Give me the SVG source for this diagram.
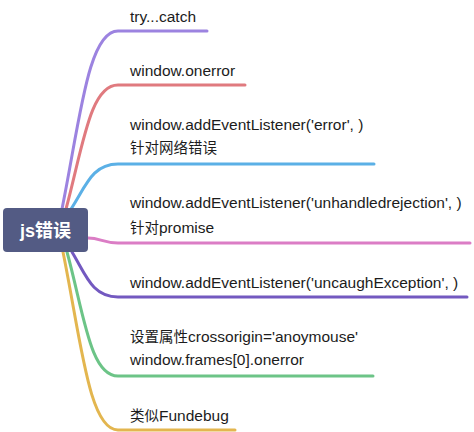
<svg xmlns="http://www.w3.org/2000/svg" width="474" height="432" viewBox="0 0 474 432">
<style>
.c{fill:none;stroke-width:3;stroke-linecap:round}
.t{font-family:"Liberation Sans","Noto Sans CJK SC",sans-serif;font-size:15.5px;fill:#1c1c1c}
.z{font-family:"Noto Sans CJK SC",sans-serif;font-size:14.5px}
.root{font-family:"Liberation Sans","Noto Sans CJK SC",sans-serif;font-size:18px;font-weight:bold;fill:#ffffff}
</style>
<rect width="474" height="432" fill="#ffffff"/>
<g id="connectors">
<path class="c" stroke="#9c83e0" d="M62 209 C80 120 88 31 118 31 L207 31"/>
<path class="c" stroke="#e07a7f" d="M66 209 C83 146 90 85 118 85 L245 85"/>
<path class="c" stroke="#5bb0e6" d="M71 209 C86 186 92 164 118 164 L374 164"/>
<path class="c" stroke="#db7dc5" d="M88 238 C100 238 104 243 118 243 L470 243"/>
<path class="c" stroke="#7359c0" d="M72 252 C86 275 92 297 118 297 L467 297"/>
<path class="c" stroke="#6cc487" d="M67 252 C84 314 90 376 118 376 L373 376"/>
<path class="c" stroke="#e3b64f" d="M63 252 C81 341 89 430 118 430 L235 430"/>
</g>
<g id="root">
<rect x="3" y="208" width="85" height="44" rx="4" fill="#535b84"/>
<text class="root" x="45.5" y="237" text-anchor="middle">js错误</text>
</g>
<g id="n1"><text class="t" x="130" y="22">try...catch</text></g>
<g id="n2"><text class="t" x="130" y="76">window.onerror</text></g>
<g id="n3"><text class="t" x="130" y="130">window.addEventListener('error', )</text><text class="t" x="130" y="153"><tspan class="z">针对网络错误</tspan></text></g>
<g id="n4"><text class="t" x="130" y="208">window.addEventListener('unhandledrejection', )</text><text class="t" x="130" y="233"><tspan class="z">针对</tspan>promise</text></g>
<g id="n5"><text class="t" x="130" y="288">window.addEventListener('uncaughException', )</text></g>
<g id="n6"><text class="t" x="130" y="342"><tspan class="z">设置属性</tspan>crossorigin='anoymouse'</text><text class="t" x="130" y="365">window.frames[0].onerror</text></g>
<g id="n7"><text class="t" x="130" y="421"><tspan class="z">类似</tspan>Fundebug</text></g>
</svg>
